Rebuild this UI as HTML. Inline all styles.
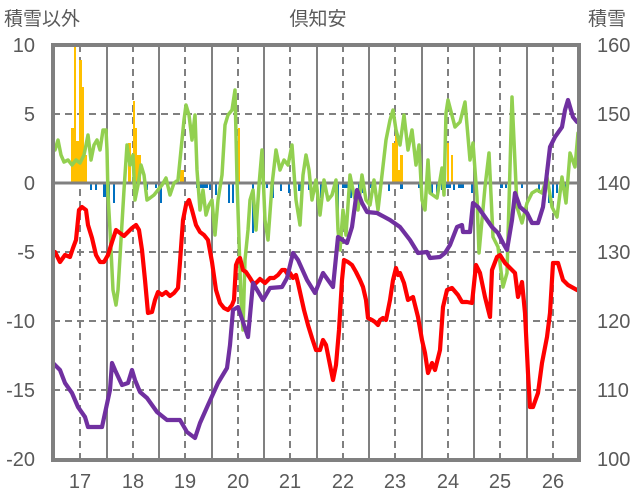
<!DOCTYPE html>
<html><head><meta charset="utf-8"><style>
body{margin:0;background:#fff;}
svg{display:block;font-family:"Liberation Sans","Noto Sans CJK JP",sans-serif;}
</style></head><body>
<svg width="636" height="501" viewBox="0 0 636 501">
<g fill="#595959" font-size="19">
<text x="318" y="25" text-anchor="middle" font-size="19">倶知安</text>
<text x="4" y="25" font-size="19">積雪以外</text>
<text x="588" y="25" font-size="19">積雪</text>
<g text-anchor="end" font-size="20">
<text x="35" y="52">10</text><text x="35" y="121">5</text><text x="35" y="190">0</text>
<text x="35" y="259">-5</text><text x="35" y="328">-10</text><text x="35" y="397">-15</text><text x="35" y="466">-20</text>
</g>
<g font-size="20">
<text x="597" y="52">160</text><text x="597" y="121">150</text><text x="597" y="190">140</text>
<text x="597" y="259">130</text><text x="597" y="328">120</text><text x="597" y="397">110</text><text x="597" y="466">100</text>
</g>
<g text-anchor="middle" font-size="20">
<text x="80" y="488">17</text><text x="133" y="488">18</text><text x="185" y="488">19</text><text x="238" y="488">20</text><text x="290" y="488">21</text><text x="343" y="488">22</text><text x="395" y="488">23</text><text x="448" y="488">24</text><text x="500" y="488">25</text><text x="553" y="488">26</text>
</g>
</g>
<g stroke="#808080" stroke-width="2">
<path d="M107 45V460M159 45V460M212 45V460M264 45V460M317 45V460M369 45V460M422 45V460M474 45V460M527 45V460"/>
<path stroke-dasharray="7,5" d="M80 45V460M133 45V460M185 45V460M238 45V460M290 45V460M343 45V460M395 45V460M448 45V460M500 45V460M553 45V460"/>
<path stroke-dasharray="7,5" d="M53 114H580M53 252H580M53 321H580M53 390H580"/>
</g>
<g fill="#ffc000">
<rect x="71" y="128" width="3" height="55"/><rect x="74" y="45" width="2" height="138"/><rect x="76" y="141" width="3" height="42"/><rect x="79" y="60" width="3" height="123"/><rect x="82" y="87" width="2" height="96"/><rect x="84" y="155" width="3" height="28"/>
<rect x="128" y="143" width="3" height="40"/><rect x="133" y="101" width="2" height="82"/><rect x="135" y="128" width="2" height="55"/><rect x="137" y="155" width="4" height="28"/>
<rect x="180" y="170" width="4" height="13"/><rect x="238" y="128" width="2" height="55"/>
<rect x="392" y="143" width="3" height="40"/><rect x="395" y="133" width="3" height="50"/><rect x="398" y="170" width="2" height="13"/><rect x="400" y="155" width="3" height="28"/>
<rect x="447" y="143" width="2" height="40"/><rect x="451" y="155" width="2" height="28"/><rect x="545" y="170" width="2" height="13"/>
</g>
<g fill="#0070c0">
<rect x="90" y="183" width="2" height="7"/><rect x="95" y="183" width="2" height="7"/><rect x="103" y="183" width="3" height="14"/><rect x="108" y="183" width="2" height="20"/><rect x="113" y="183" width="2" height="20"/>
<rect x="146" y="183" width="2" height="7"/><rect x="155" y="183" width="2" height="5"/><rect x="160" y="183" width="2" height="20"/>
<rect x="196" y="183" width="12" height="5"/><rect x="209" y="183" width="2" height="7"/><rect x="215" y="183" width="2" height="12"/><rect x="228" y="183" width="2" height="20"/><rect x="232" y="183" width="2" height="20"/><rect x="236" y="183" width="2" height="12"/><rect x="252" y="183" width="2" height="50"/><rect x="258" y="183" width="2" height="12"/>
<rect x="266" y="183" width="2" height="5"/><rect x="272" y="183" width="2" height="15"/><rect x="280" y="183" width="2" height="8"/><rect x="288" y="183" width="2" height="10"/><rect x="298" y="183" width="3" height="8"/><rect x="308" y="183" width="2" height="7"/>
<rect x="320" y="183" width="2" height="15"/><rect x="336" y="183" width="3" height="40"/><rect x="342" y="183" width="6" height="5"/><rect x="350" y="183" width="2" height="15"/><rect x="358" y="183" width="2" height="12"/><rect x="362" y="183" width="3" height="10"/><rect x="370" y="183" width="2" height="5"/>
<rect x="380" y="183" width="2" height="6"/><rect x="388" y="183" width="2" height="8"/><rect x="400" y="183" width="3" height="6"/>
<rect x="418" y="183" width="3" height="5"/><rect x="431" y="183" width="2" height="12"/><rect x="436" y="183" width="2" height="13"/><rect x="441" y="183" width="2" height="7"/><rect x="446" y="183" width="5" height="5"/><rect x="453" y="183" width="2" height="7"/><rect x="458" y="183" width="6" height="5"/>
<rect x="471" y="183" width="2" height="10"/><rect x="500" y="183" width="3" height="5"/><rect x="505" y="183" width="2" height="5"/><rect x="521" y="183" width="2" height="5"/>
<rect x="538" y="183" width="2" height="10"/><rect x="544" y="183" width="2" height="12"/><rect x="548" y="183" width="2" height="20"/><rect x="552" y="183" width="2" height="15"/><rect x="556" y="183" width="2" height="10"/><rect x="565" y="183" width="2" height="5"/>
</g>
<path d="M53 183H580" stroke="#808080" stroke-width="3"/>
<g fill="none" stroke-width="4.2" stroke-linejoin="round" stroke-linecap="round">
<polyline stroke="#92d050" stroke-width="3.5" points="55,150 58,140 61,155 64,162 68,160 72,165 76,160 80,163 84,155 88,135 91,160 94,145 97,140 100,150 103,130 106,130 107,150 108,195 110,230 113,290 116,305 118,290 121,240 124,190 127,145 130,165 133,155 135,200 138,185 141,165 144,175 147,200 150,198 154,195 158,190 162,185 166,178 170,195 174,183 178,180 181,150 184,120 186,105 189,115 192,140 195,115 197,170 200,210 203,190 206,215 209,205 212,200 215,235 218,200 222,175 225,125 228,115 232,110 235,90 237,180 239,240 241,300 243,330 245,260 248,230 250,200 253,190 256,230 259,185 262,150 265,220 268,240 272,185 276,150 280,170 284,160 288,165 292,145 296,200 300,225 303,175 306,155 309,170 312,200 316,180 320,215 324,180 328,200 332,195 336,180 338,230 340,250 343,210 346,235 350,175 354,195 358,210 362,175 366,200 370,205 374,180 378,210 382,175 386,140 390,120 393,110 396,130 400,145 404,115 408,150 412,130 416,165 419,145 422,200 425,210 428,160 430,193 437,198 442,168 444,195 446,113 448,100 455,127 460,122 465,102 470,160 473,143 477,197 479,253 485,187 489,153 493,237 498,247 503,287 507,273 512,97 517,207 522,223 527,203 532,193 537,190 542,193 547,177 552,207 557,217 562,177 566,203 570,153 575,167 578,133"/>
<polyline stroke="#ff0000" points="55,252 60,262 65,255 70,257 73,248 76,240 79,210 82,207 86,210 88,225 92,238 96,255 100,262 104,262 108,255 112,242 116,230 120,233 124,236 128,232 132,228 136,225 139,230 142,250 145,280 148,313 152,312 155,300 158,292 162,295 166,292 170,296 174,293 178,288 180,262 183,220 186,205 189,200 192,210 196,225 200,232 204,235 208,240 212,262 216,290 220,303 224,308 228,310 232,305 234,300 236,265 238,260 240,258 243,270 246,272 250,278 253,283 256,283 260,279 265,283 270,278 274,278 278,275 282,270 285,270 288,275 290,273 293,278 296,275 298,283 300,292 304,310 308,325 312,338 316,350 320,350 323,340 326,345 330,365 333,380 336,365 339,330 342,280 344,260 348,262 352,265 356,272 360,280 363,287 366,300 368,318 372,320 375,322 378,325 380,320 383,318 386,320 390,300 393,280 396,268 398,275 400,273 404,283 408,300 413,297 418,317 422,340 425,353 428,373 432,363 435,370 440,350 443,307 447,290 452,288 458,295 462,302 467,302 472,303 476,265 480,273 485,297 490,317 492,270 497,257 500,255 505,263 510,268 515,273 518,297 522,282 525,313 528,373 530,407 533,407 538,393 542,363 547,337 550,313 553,263 558,263 563,280 568,285 577,290"/>
<polyline stroke="#7030a0" points="53,363 60,370 65,383 72,393 78,407 85,417 88,427 102,427 110,390 112,363 115,370 122,385 128,383 132,370 135,380 140,392 147,398 157,412 167,420 180,420 187,432 195,438 200,423 208,405 218,383 227,368 230,345 233,310 238,307 248,337 253,283 263,300 270,288 282,287 287,278 293,253 298,260 307,280 315,293 323,273 333,287 338,237 347,243 352,227 357,190 362,203 367,212 377,213 390,220 400,227 410,240 418,253 427,252 430,258 440,257 445,253 450,245 457,227 462,225 463,232 470,232 473,203 478,207 485,217 492,227 498,233 503,243 507,250 512,220 515,193 520,207 527,213 532,223 538,223 543,207 550,147 555,137 562,127 565,110 568,100 573,117 577,122"/>
</g>
<rect x="53" y="45" width="526" height="415" fill="none" stroke="#808080" stroke-width="4"/>
</svg>
</body></html>
